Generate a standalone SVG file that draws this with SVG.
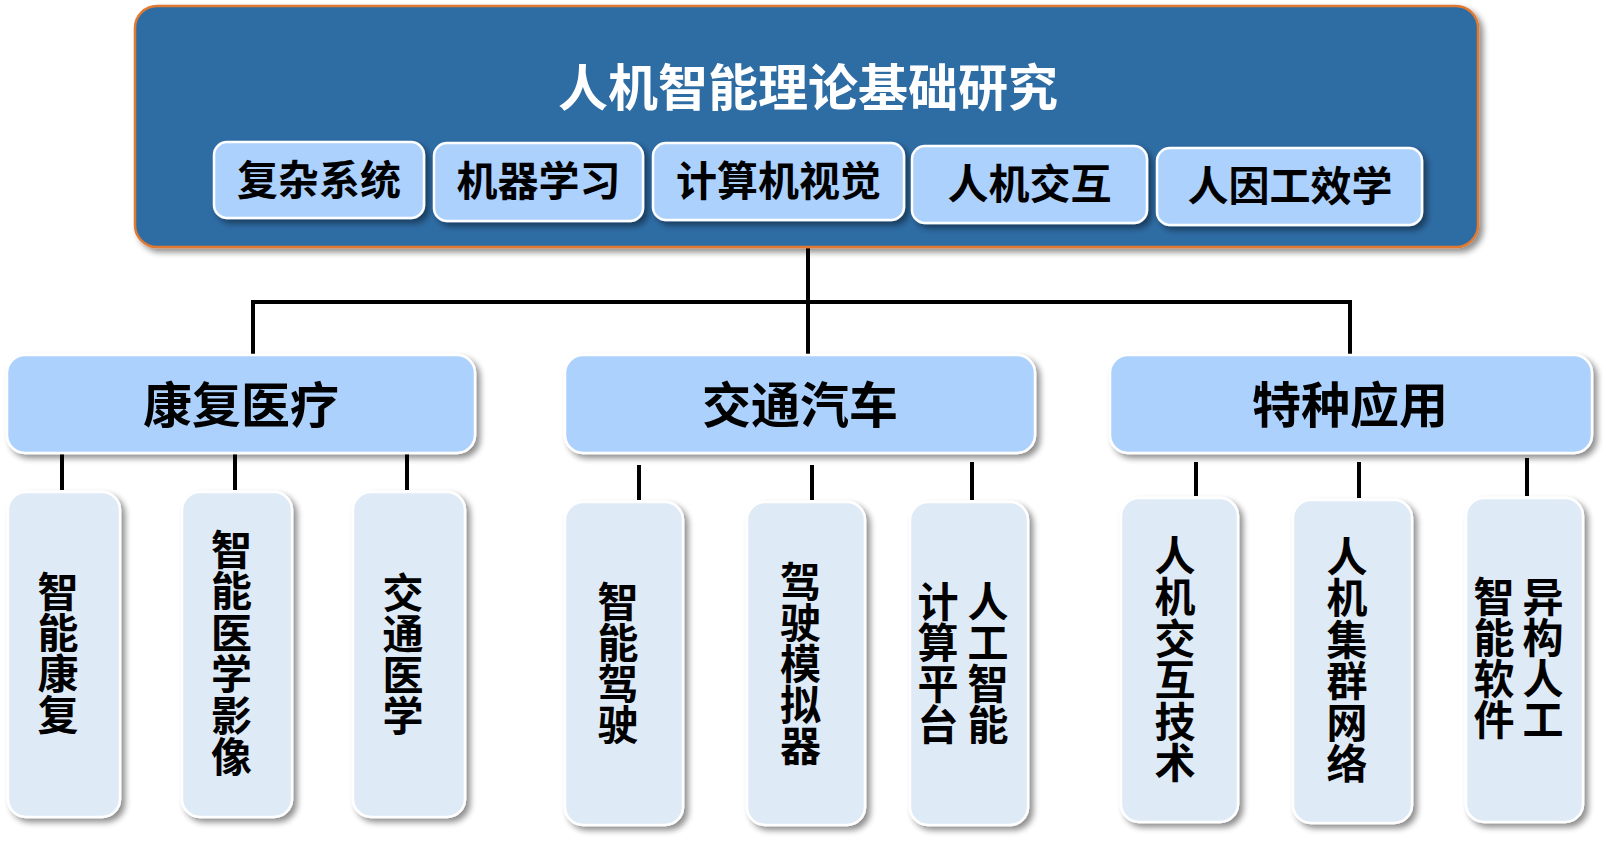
<svg xmlns="http://www.w3.org/2000/svg" width="1606" height="842" viewBox="0 0 1606 842">
<defs>
<filter id="sh" x="-10%" y="-10%" width="130%" height="130%">
<feGaussianBlur in="SourceAlpha" stdDeviation="3"/>
<feOffset dx="4" dy="4" result="b"/>
<feComponentTransfer><feFuncA type="linear" slope="0.45"/></feComponentTransfer>
<feMerge><feMergeNode/><feMergeNode in="SourceGraphic"/></feMerge>
</filter>
</defs>
<style>
text{font-family:"Noto Sans CJK SC","Noto Sans CJK JP",sans-serif;font-weight:700;text-anchor:middle;dominant-baseline:central;fill:#000}
.top{fill:#2E6CA4;stroke:#E07A30;stroke-width:2.5}
.sub{fill:#ACD1FD;stroke:#fff;stroke-width:2.5}
.cat{fill:#ACD1FC;stroke:#fff;stroke-width:2.5}
.leaf{fill:#DEEAF6;stroke:#fff;stroke-width:2.5}
.title{fill:#fff;font-size:50px}
.st{font-size:41px}
.ct{font-size:49px}
.lt{font-size:41px;writing-mode:vertical-rl}
.conn line{stroke:#000;stroke-width:4;stroke-linecap:butt}
</style>
<rect width="1606" height="842" fill="#fff"/>
<g class="conn">
<line x1="808" y1="247" x2="808" y2="354"/>
<line x1="251" y1="302" x2="1352" y2="302"/>
<line x1="253" y1="300" x2="253" y2="355"/>
<line x1="1350" y1="300" x2="1350" y2="355"/>
<line x1="62" y1="453" x2="62" y2="490"/>
<line x1="235" y1="453" x2="235" y2="490"/>
<line x1="407" y1="453" x2="407" y2="490"/>
<line x1="639" y1="465" x2="639" y2="500"/>
<line x1="812" y1="465" x2="812" y2="500"/>
<line x1="972" y1="462" x2="972" y2="500"/>
<line x1="1196" y1="462" x2="1196" y2="496"/>
<line x1="1359" y1="462" x2="1359" y2="498"/>
<line x1="1527" y1="458" x2="1527" y2="496"/>
</g>
<g id="root">
<rect class="top" x="135" y="6" width="1343" height="241" rx="22" filter="url(#sh)"/>
<text class="title" x="808" y="84">人机智能理论基础研究</text>
</g>
<g id="s1"><rect class="sub" x="214" y="142" width="210" height="76" rx="13" filter="url(#sh)"/><text class="st" x="319" y="177">复杂系统</text></g>
<g id="s2"><rect class="sub" x="434" y="143" width="209" height="78" rx="13" filter="url(#sh)"/><text class="st" x="538.5" y="178">机器学习</text></g>
<g id="s3"><rect class="sub" x="653" y="143" width="251" height="77" rx="13" filter="url(#sh)"/><text class="st" x="778.5" y="178">计算机视觉</text></g>
<g id="s4"><rect class="sub" x="912" y="146" width="235" height="77" rx="13" filter="url(#sh)"/><text class="st" x="1029.5" y="181">人机交互</text></g>
<g id="s5"><rect class="sub" x="1157" y="148" width="265" height="77" rx="13" filter="url(#sh)"/><text class="st" x="1290" y="183">人因工效学</text></g>

<g id="c1"><rect class="cat" x="7" y="355" width="468" height="98" rx="18" filter="url(#sh)"/><text class="ct" x="241" y="401">康复医疗</text></g>
<g id="c2"><rect class="cat" x="565" y="355" width="470" height="98" rx="18" filter="url(#sh)"/><text class="ct" x="800" y="401">交通汽车</text></g>
<g id="c3"><rect class="cat" x="1110" y="355" width="482" height="98" rx="18" filter="url(#sh)"/><text class="ct" x="1350" y="401">特种应用</text></g>

<g id="l1"><rect class="leaf" x="8" y="492" width="112" height="325" rx="18" filter="url(#sh)"/>
<text class="lt" x="58" y="653">智能康复</text></g>
<g id="l2"><rect class="leaf" x="182" y="492" width="110" height="325" rx="18" filter="url(#sh)"/>
<text class="lt" x="231.5" y="653" style="letter-spacing:0.5px">智能医学影像</text></g>
<g id="l3"><rect class="leaf" x="353" y="492" width="112" height="325" rx="18" filter="url(#sh)"/>
<text class="lt" x="403" y="654">交通医学</text></g>

<g id="l4"><rect class="leaf" x="565" y="502" width="118" height="323" rx="18" filter="url(#sh)"/>
<text class="lt" x="618" y="663">智能驾驶</text></g>
<g id="l5"><rect class="leaf" x="747" y="502" width="118" height="323" rx="18" filter="url(#sh)"/>
<text class="lt" x="800.5" y="663">驾驶模拟器</text></g>
<g id="l6"><rect class="leaf" x="910" y="502" width="118" height="323" rx="18" filter="url(#sh)"/>
<text class="lt" x="988" y="663">人工智能</text>
<text class="lt" x="938" y="663">计算平台</text></g>

<g id="l7"><rect class="leaf" x="1121" y="498" width="117" height="324" rx="18" filter="url(#sh)"/>
<text class="lt" x="1175" y="659" style="letter-spacing:0.5px">人机交互技术</text></g>
<g id="l8"><rect class="leaf" x="1293" y="500" width="119" height="323" rx="18" filter="url(#sh)"/>
<text class="lt" x="1347" y="660" style="letter-spacing:0.5px">人机集群网络</text></g>
<g id="l9"><rect class="leaf" x="1466" y="498" width="117" height="324" rx="18" filter="url(#sh)"/>
<text class="lt" x="1543" y="658">异构人工</text>
<text class="lt" x="1494" y="658">智能软件</text></g>
</svg>
